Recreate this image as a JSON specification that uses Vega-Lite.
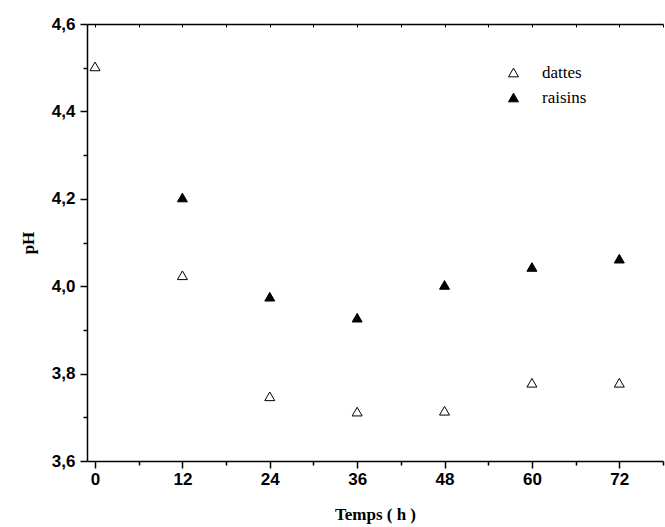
{
  "$schema": "https://vega.github.io/schema/vega-lite/v6.json",
  "width": 576,
  "height": 437,
  "autosize": {"type": "none"},
  "padding": {"left": 87, "top": 24, "right": 2, "bottom": 66},
  "background": "white",
  "config": {
    "view": {"stroke": null},
    "font": "Liberation Serif",
    "axis": {"grid": false, "domainColor": "black", "tickColor": "black", "domainWidth": 1.5, "tickWidth": 1.5, "labelFont": "Liberation Sans", "labelFontWeight": "bold", "labelFontSize": 17, "labelColor": "black"}
  },
  "data": {
    "values": [
      {"series": "dattes", "t": 0, "pH": 4.503},
      {"series": "dattes", "t": 12, "pH": 4.025},
      {"series": "dattes", "t": 24, "pH": 3.748},
      {"series": "dattes", "t": 36, "pH": 3.713},
      {"series": "dattes", "t": 48, "pH": 3.715},
      {"series": "dattes", "t": 60, "pH": 3.779},
      {"series": "dattes", "t": 72, "pH": 3.779},
      {"series": "raisins", "t": 12, "pH": 4.203},
      {"series": "raisins", "t": 24, "pH": 3.976},
      {"series": "raisins", "t": 36, "pH": 3.928},
      {"series": "raisins", "t": 48, "pH": 4.003},
      {"series": "raisins", "t": 60, "pH": 4.044},
      {"series": "raisins", "t": 72, "pH": 4.063}
    ]
  },
  "layer": [
    {
      "mark": {"type": "point", "shape": "triangle-up", "size": 100, "stroke": "black", "strokeWidth": 1, "opacity": 1, "filled": false},
      "encoding": {
        "x": {"field": "t", "type": "quantitative", "scale": {"domain": [-1.1, 78], "nice": false, "zero": false},
          "axis": {"orient": "bottom", "values": [0, 12, 24, 36, 48, 60, 72], "tickSize": 7, "labelPadding": 3,
            "title": "Temps ( h )", "titleFont": "Liberation Serif", "titleFontWeight": "bold", "titleFontSize": 17, "titleColor": "black", "titlePadding": 19}},
        "y": {"field": "pH", "type": "quantitative", "scale": {"domain": [3.6, 4.6], "nice": false, "zero": false},
          "axis": {"orient": "left", "values": [3.6, 3.8, 4.0, 4.2, 4.4, 4.6], "tickSize": 7, "labelExpr": "replace(format(datum.value, '.1f'), '.', ',')", "labelPadding": 5,
            "title": "pH", "titleFont": "Liberation Serif", "titleFontWeight": "bold", "titleFontSize": 17, "titleColor": "black", "titlePadding": 14}},
        "fill": {"field": "series", "type": "nominal", "scale": {"domain": ["dattes", "raisins"], "range": ["white", "black"]},
          "legend": {"title": null, "orient": "none", "legendX": 418, "legendY": 40, "symbolType": "triangle-up", "symbolSize": 100, "symbolStrokeColor": "black", "symbolStrokeWidth": 1, "labelFont": "Liberation Serif, Times New Roman, serif", "labelFontSize": 17, "labelColor": "black", "labelOffset": 20, "rowPadding": 7}}
      }
    },
    {
      "mark": {"type": "point", "opacity": 0},
      "encoding": {
        "x": {"field": "t", "type": "quantitative",
          "axis": {"orient": "bottom", "values": [6, 18, 30, 42, 54, 66, 78], "tickSize": 4, "labels": false, "title": null, "domain": false}},
        "y": {"field": "pH", "type": "quantitative",
          "axis": {"orient": "left", "values": [3.7, 3.9, 4.1, 4.3, 4.5], "tickSize": 4, "labels": false, "title": null, "domain": false}}
      }
    },
    {
      "mark": {"type": "point", "opacity": 0},
      "encoding": {
        "x": {"field": "t", "type": "quantitative",
          "axis": {"orient": "top", "values": [0, 6, 12, 18, 24, 30, 36, 42, 48, 54, 60, 66, 72, 78], "tickSize": -3, "tickWidth": 1, "labels": false, "title": null, "domainWidth": 1.5}}
      }
    }
  ],
  "resolve": {"axis": {"x": "independent", "y": "independent"}}
}
